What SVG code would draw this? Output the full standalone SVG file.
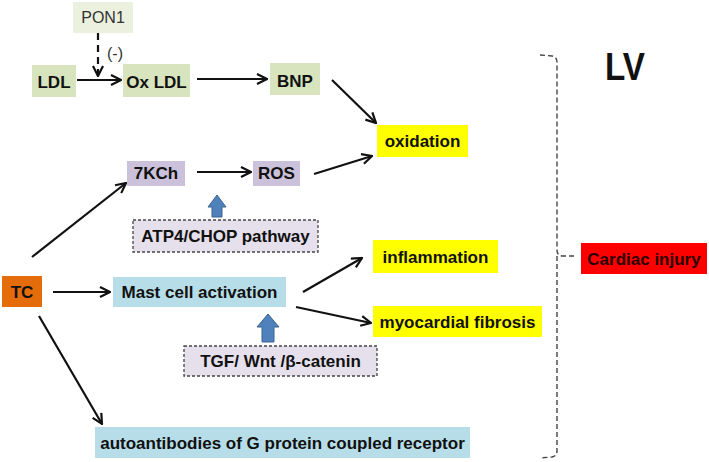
<svg xmlns="http://www.w3.org/2000/svg" width="709" height="462" viewBox="0 0 709 462">
<style>
text{font-family:"Liberation Sans",Arial,sans-serif;font-weight:bold;font-size:17px;fill:#111;text-anchor:middle}
.g{fill:#d7e4bd}
.p{fill:#ccc1da}
.b{fill:#b7dee8}
.y{fill:#ffff00}
.dash{fill:#e6e0ec;stroke:#444;stroke-width:1.3;stroke-dasharray:3,2}
.c{stroke:#111;stroke-width:2.2;fill:none;marker-end:url(#ah)}
.up{fill:#4f81bd;stroke:#3a6591;stroke-width:1}
.n{font-weight:normal;font-size:16px;fill:#333}
</style>
<defs>
<marker id="ah" markerUnits="userSpaceOnUse" viewBox="0 0 12 12" refX="11" refY="6" markerWidth="12" markerHeight="12" orient="auto">
<path d="M1,1 L11,6 L1,11" fill="none" stroke="#111" stroke-width="2.2"/>
</marker>
</defs>
<rect width="709" height="462" fill="#fff"/>
<g id="connectors">
<line class="c" x1="98" y1="33" x2="98" y2="76" stroke-dasharray="7,5"/>
<line class="c" x1="77" y1="80" x2="121" y2="80"/>
<line class="c" x1="197" y1="79" x2="267" y2="79"/>
<line class="c" x1="332" y1="80" x2="376" y2="123"/>
<line class="c" x1="314" y1="174" x2="372" y2="156"/>
<line class="c" x1="197" y1="172" x2="251" y2="172"/>
<line class="c" x1="32" y1="257" x2="126" y2="183"/>
<line class="c" x1="53" y1="292" x2="110" y2="292"/>
<line class="c" x1="39" y1="316" x2="102" y2="424"/>
<line class="c" x1="303" y1="292" x2="362" y2="258"/>
<line class="c" x1="296" y1="307" x2="371" y2="323"/>
<path d="M208,207 L217,195 L226,207 L222,207 L222,217 L212,217 L212,207 Z" class="up"/>
<path d="M257,327 L268,314 L279,327 L274,327 L274,342 L262,342 L262,327 Z" class="up"/>
</g>
<g id="pon1"><rect x="73" y="2" width="60" height="31" fill="#ebf1de"/><text class="n" x="103" y="23">PON1</text></g>
<text class="n" x="115" y="59">(-)</text>
<g id="ldl"><rect class="g" x="32" y="65" width="44" height="32"/><text x="54" y="88">LDL</text></g>
<g id="oxldl"><rect class="g" x="123" y="64" width="67" height="33"/><text x="156.5" y="88">Ox LDL</text></g>
<g id="bnp"><rect class="g" x="270" y="63" width="50" height="32"/><text x="295" y="87">BNP</text></g>
<g id="oxidation"><rect class="y" x="377" y="125" width="91" height="32"/><text x="422.5" y="147">oxidation</text></g>
<g id="7kch"><rect class="p" x="127" y="161" width="58" height="25"/><text x="156" y="179">7KCh</text></g>
<g id="ros"><rect class="p" x="253" y="161" width="47" height="25"/><text x="276.5" y="179">ROS</text></g>
<g id="atp4"><rect class="dash" x="133" y="220" width="185" height="32"/><text x="225.5" y="242">ATP4/CHOP pathway</text></g>
<g id="tc"><rect x="2" y="276" width="40" height="31" fill="#e46c0a"/><text x="22" y="298">TC</text></g>
<g id="mast"><rect class="b" x="113" y="277" width="173" height="30"/><text x="199.5" y="298">Mast cell activation</text></g>
<g id="inflammation"><rect class="y" x="373" y="240" width="125" height="33"/><text x="435.5" y="263">inflammation</text></g>
<g id="fibrosis"><rect class="y" x="373" y="306" width="169" height="31"/><text x="457.5" y="328">myocardial fibrosis</text></g>
<g id="tgf"><rect class="dash" x="184" y="346" width="193" height="30"/><text x="280.5" y="367">TGF/ Wnt /β-catenin</text></g>
<g id="auto"><rect class="b" x="95" y="427" width="375" height="31"/><text x="282.5" y="449">autoantibodies of G protein coupled receptor</text></g>
<g id="bracket"><path d="M540,55 L552,56 Q557,57 557,62 L557,250 Q557,256 563,256 L575,256 M557,256 L557,451 Q557,456 552,457 L540,458" fill="none" stroke="#444" stroke-width="1.4" stroke-dasharray="5,3"/></g>
<g id="cardiac"><rect x="581" y="243" width="126" height="31" fill="#ff0000"/><text x="644" y="265" style="fill:#2a0000">Cardiac injury</text></g>
<g id="lv"><text x="625" y="80" style="font-size:39px" textLength="40" lengthAdjust="spacingAndGlyphs">LV</text></g>
</svg>
